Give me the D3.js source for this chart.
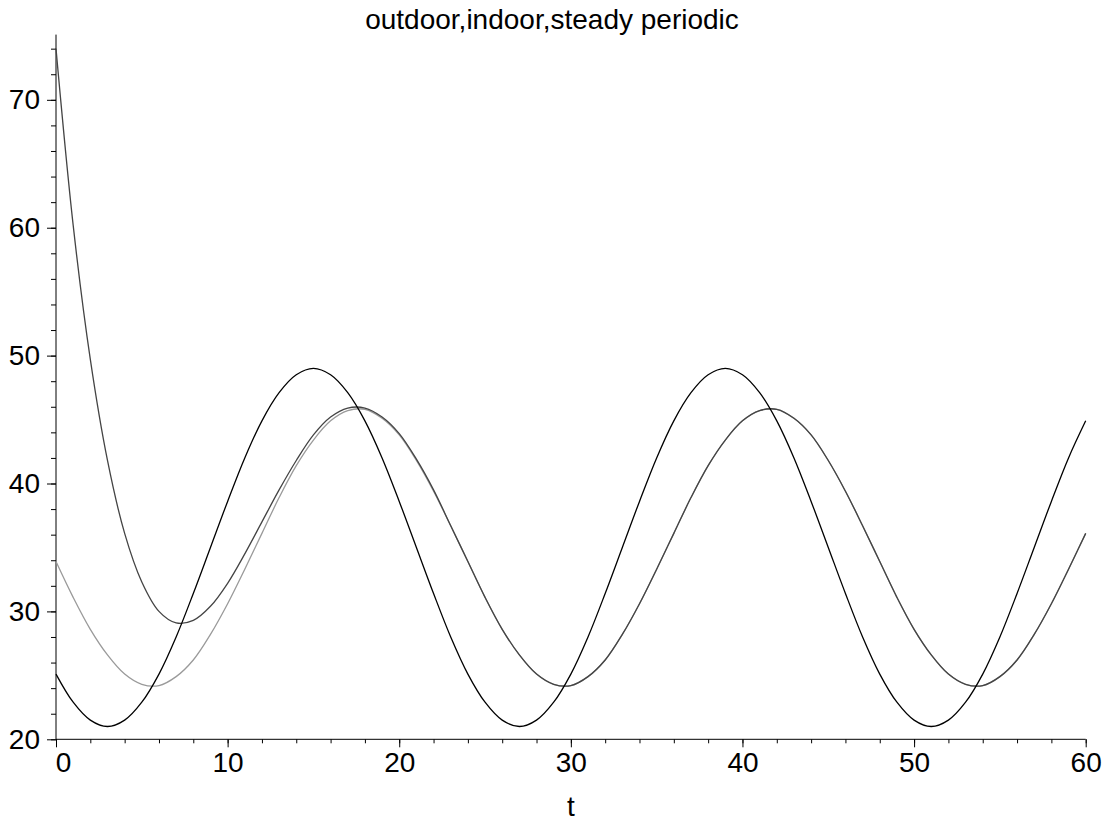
<!DOCTYPE html>
<html>
<head>
<meta charset="utf-8">
<script src="https://cdn.jsdelivr.net/npm/d3@7"></script>
<style>
  body { margin: 0; background: #fff; }
  text { font-family: "Liberation Sans", Arial, sans-serif; }
</style>
</head>
<body>
<div id="chart_root"></div>
<script>
// hours 0..60, one reading per hour
const hours = d3.range(0, 61);

const outdoor = [25.1, 22.9, 21.5, 21.0, 21.5, 22.9, 25.1, 28.0, 31.4, 35.0,
    38.6, 42.0, 44.9, 47.1, 48.5, 49.0, 48.5, 47.1, 44.9, 42.0,
    38.6, 35.0, 31.4, 28.0, 25.1, 22.9, 21.5, 21.0, 21.5, 22.9,
    25.1, 28.0, 31.4, 35.0, 38.6, 42.0, 44.9, 47.1, 48.5, 49.0,
    48.5, 47.1, 44.9, 42.0, 38.6, 35.0, 31.4, 28.0, 25.1, 22.9,
    21.5, 21.0, 21.5, 22.9, 25.1, 28.0, 31.4, 35.0, 38.6, 42.0, 44.9];

const indoor = [74.0, 60.2, 49.7, 41.8, 36.1, 32.3, 30.0, 29.1, 29.3, 30.4,
    32.2, 34.5, 37.0, 39.5, 41.8, 43.8, 45.2, 45.9, 45.9, 45.2,
    43.9, 41.9, 39.5, 36.7, 33.9, 31.1, 28.6, 26.6, 25.1, 24.3,
    24.2, 24.9, 26.2, 28.2, 30.6, 33.3, 36.1, 38.9, 41.4, 43.4,
    44.9, 45.7, 45.8, 45.1, 43.8, 41.8, 39.4, 36.7, 33.9, 31.1,
    28.6, 26.6, 25.1, 24.3, 24.2, 24.9, 26.2, 28.2, 30.6, 33.3, 36.1];

const steady = [33.9, 31.1, 28.6, 26.6, 25.1, 24.3, 24.2, 24.9, 26.2, 28.2,
    30.6, 33.3, 36.1, 38.9, 41.4, 43.4, 44.9, 45.7, 45.8, 45.1,
    43.8, 41.8, 39.4, 36.7, 33.9, 31.1, 28.6, 26.6, 25.1, 24.3,
    24.2, 24.9, 26.2, 28.2, 30.6, 33.3, 36.1, 38.9, 41.4, 43.4,
    44.9, 45.7, 45.8, 45.1, 43.8, 41.8, 39.4, 36.7, 33.9, 31.1,
    28.6, 26.6, 25.1, 24.3, 24.2, 24.9, 26.2, 28.2, 30.6, 33.3, 36.1];

const xTicks = [0, 10, 20, 30, 40, 50, 60];
const yTicks = [20, 30, 40, 50, 60, 70];
const titleText = "outdoor,indoor,steady periodic";
const xLabel = "t";

const W = 1106, H = 825;
const x0 = 56, x1 = 1085.7;
const yBottom = 739.3, yTop = 34.6;
const fontSize = 28;

const svg = d3.select("#chart_root")
    .append("svg")
    .attr("width", W)
    .attr("height", H);

const x = d3.scaleLinear().domain([0, 60]).range([x0, x1]);
const y = d3.scaleLinear().domain([20, 75.1]).range([yBottom, yTop]);

// x axis: minor ticks every 2, major every 10
svg.append("g")
    .attr("transform", "translate(0," + yBottom + ")")
    .call(d3.axisBottom(x).tickValues(d3.range(0, 61, 2)).tickSize(4).tickFormat(""))
    .call(g => g.select(".domain").attr("d", `M${x0},0H${x1}`));
svg.append("g")
    .attr("transform", "translate(0," + yBottom + ")")
    .call(d3.axisBottom(x).tickValues(xTicks).tickSize(8))
    .call(g => g.select(".domain").remove())
    .call(g => g.selectAll("text").attr("font-size", fontSize)
        .attr("font-family", "Liberation Sans, Arial, sans-serif").attr("fill", "#000")
        .attr("dy", null).attr("y", 33)
        .attr("x", d => d === 0 ? 7 : 0));

// y axis
svg.append("g")
    .attr("transform", "translate(" + x0 + ",0)")
    .call(d3.axisLeft(y).tickValues(d3.range(20, 75, 2)).tickSize(5).tickFormat(""))
    .call(g => g.select(".domain").attr("d", `M0,${yBottom}V${yTop}`));
svg.append("g")
    .attr("transform", "translate(" + x0 + ",0)")
    .call(d3.axisLeft(y).tickValues(yTicks).tickSize(9).tickPadding(7))
    .call(g => g.select(".domain").remove())
    .call(g => g.selectAll("text").attr("font-size", fontSize)
        .attr("font-family", "Liberation Sans, Arial, sans-serif").attr("fill", "#000"));

svg.selectAll(".tick line").attr("stroke", "#000");
svg.selectAll(".domain").attr("stroke", "#000");

const line = (vals) => d3.line()
    .x((d, i) => x(hours[i]))
    .y(d => y(d))
    .curve(d3.curveCatmullRom)(vals);

svg.append("path").attr("d", line(steady))
    .attr("fill", "none").attr("stroke", "#9a9a9a").attr("stroke-width", 1.3);
svg.append("path").attr("d", line(indoor))
    .attr("fill", "none").attr("stroke", "#444").attr("stroke-width", 1.3);
svg.append("path").attr("d", line(outdoor))
    .attr("fill", "none").attr("stroke", "#000").attr("stroke-width", 1.3);

svg.append("text")
    .attr("x", 552)
    .attr("y", 29)
    .attr("text-anchor", "middle")
    .attr("font-size", fontSize)
    .text(titleText);

svg.append("text")
    .attr("x", x(30))
    .attr("y", 816)
    .attr("text-anchor", "middle")
    .attr("font-size", fontSize)
    .text(xLabel);
</script>
</body>
</html>
